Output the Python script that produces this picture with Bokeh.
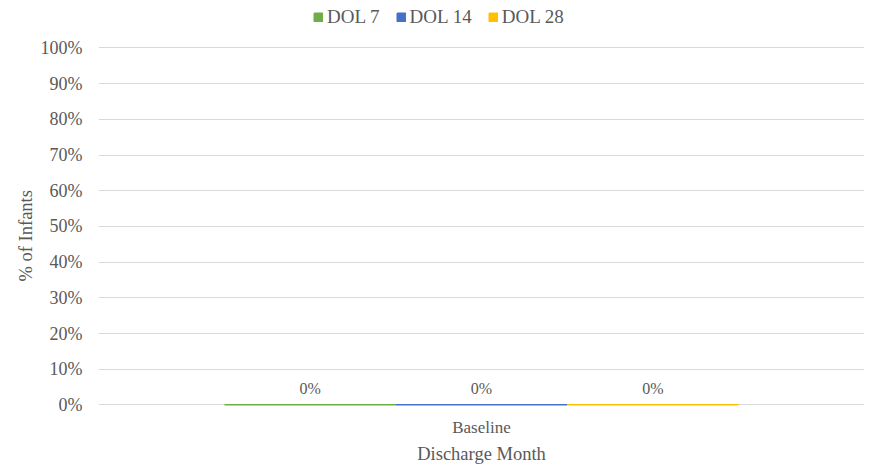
from bokeh.plotting import figure
from bokeh.models import ColumnDataSource, FactorRange, Range1d, Legend, LegendItem, NumeralTickFormatter, FixedTicker, Title
from bokeh.transform import dodge
from bokeh.core.properties import value
from bokeh.embed import file_html
from bokeh.resources import INLINE

categories = ["Baseline"]
series_names = ["DOL 7", "DOL 14", "DOL 28"]
dol7 = [0.0]
dol14 = [0.0]
dol28 = [0.0]
colors = ["#70AD47", "#4472C4", "#FFC000"]
y_ticks = [0.0, 0.1, 0.2, 0.3, 0.4, 0.5, 0.6, 0.7, 0.8, 0.9, 1.0]

FONT = "Liberation Serif"
TXT = "#595959"

source = ColumnDataSource(data=dict(
    cat=categories,
    dol7=dol7, dol14=dol14, dol28=dol28,
    lab7=[f"{v:.0%}" for v in dol7],
    lab14=[f"{v:.0%}" for v in dol14],
    lab28=[f"{v:.0%}" for v in dol28],
))

p = figure(width=873, height=466, x_range=FactorRange(*categories), y_range=Range1d(-0.0015, 1.133),
           output_backend="svg", toolbar_location=None,
           min_border_left=98, min_border_right=9, min_border_bottom=61, min_border_top=0)
p.outline_line_color = None
p.background_fill_color = "white"

bw = 0.2237
offsets = [-bw, 0.0, bw]
cols = ["dol7", "dol14", "dol28"]
labs = ["lab7", "lab14", "lab28"]
items = []
for name, col, lab, off, c in zip(series_names, cols, labs, offsets, colors):
    r = p.vbar(x=dodge("cat", off, range=p.x_range), top=col, bottom=0, width=bw, source=source,
               fill_color=c, line_color=c, line_width=2)
    items.append(LegendItem(label=name, renderers=[r]))
    p.text(x=dodge("cat", off, range=p.x_range), y=col, text=lab, source=source,
           text_font=value(FONT), text_font_size="16px", text_color=TXT,
           text_align="center", text_baseline="middle", y_offset=-16)

legend = Legend(items=items, orientation="horizontal", location=(215, 377))
legend.label_text_font = FONT
legend.label_text_font_size = "19px"
legend.label_text_color = TXT
legend.glyph_width = 10
legend.glyph_height = 10
legend.label_standoff = 4
legend.spacing = 16
legend.padding = 0
legend.margin = 0
legend.border_line_color = None
legend.background_fill_alpha = 0
p.add_layout(legend, "center")

p.yaxis.ticker = FixedTicker(ticks=y_ticks)
p.yaxis.formatter = NumeralTickFormatter(format="0%")
p.xgrid.grid_line_color = None
p.ygrid.grid_line_color = "#D9D9D9"
p.ygrid.grid_line_width = 1

for ax in (p.xaxis, p.yaxis):
    ax.axis_line_color = None
    ax.major_tick_line_color = None
    ax.minor_tick_line_color = None
    ax.major_label_text_color = TXT
    ax.major_label_text_font = FONT
    ax.axis_label_text_font = FONT
    ax.axis_label_text_font_size = "18.5px"
    ax.axis_label_text_color = TXT
    ax.axis_label_text_font_style = "normal"

p.xaxis.major_label_text_font_size = "17px"
p.yaxis.major_label_text_font_size = "18px"

p.xaxis.axis_label = "Discharge Month"
p.yaxis.major_label_standoff = 10
p.xaxis.major_label_standoff = 6
p.xaxis.axis_label_standoff = 4

ytitle = Title(text="% of Infants", align="left", offset=124, standoff=4,
               text_font=FONT, text_font_size="18.5px", text_color=TXT, text_font_style="normal")
p.add_layout(ytitle, "left")

open("out.html", "w").write(file_html(p, INLINE))
